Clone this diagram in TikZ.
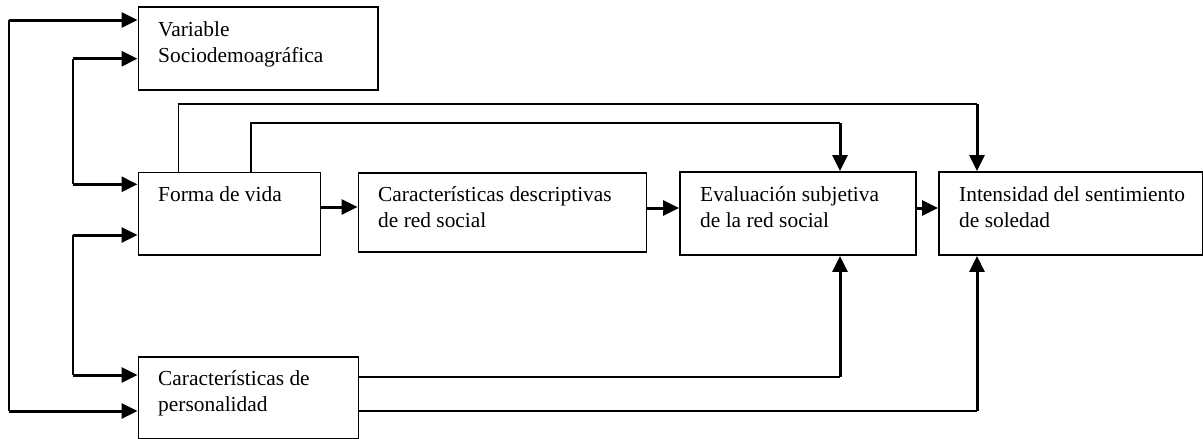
\documentclass[tikz,border=0pt]{standalone}
\usepackage{fontspec}
\setmainfont{Liberation Serif}
\usetikzlibrary{arrows.meta,calc}
\begin{document}
\begin{tikzpicture}[x=1pt,y=-1pt,
  box/.style={draw,line width=1.9pt,inner sep=0pt,anchor=north west},
  txt/.style={anchor=base west,inner sep=0pt,align=left,font=\fontsize{21.4}{25.5}\selectfont},
  link/.style={line width=2pt},
  thinlink/.style={line width=1.6pt},
  arr/.style={line width=3pt,-{Triangle[length=16pt,width=15pt]}},
  ]
\useasboundingbox (0,0) rectangle (1203,439);
% boxes
\node[box,minimum width=239.5pt,minimum height=83pt] (var) at (137.5,6) {};
\node[box,minimum width=182pt,minimum height=82.5pt] (forma) at (137.5,171.5) {};
\node[box,minimum width=288pt,minimum height=79pt] (desc) at (357.5,172) {};
\node[box,minimum width=236pt,minimum height=83pt] (eval) at (679,171) {};
\node[box,minimum width=264pt,minimum height=83pt] (inten) at (938,171) {};
\node[box,minimum width=220pt,minimum height=82pt] (pers) at (137.5,356) {};
% texts (anchor = baseline of the last line)
\node[txt] (tvar) at (158,62.4) {Variable\\Sociodemoagráfica};
\node[txt] (tforma) at (158,201.7) {Forma de vida};
\node[txt] (tdesc) at (378,227.2) {Características descriptivas\\de red social};
\node[txt] (teval) at (700,227.2) {Evaluación subjetiva\\de la red social};
\node[txt] (tinten) at (959,227.2) {Intensidad del sentimiento\\de soledad};
\node[txt] (tpers) at (158,411.2) {Características de\\personalidad};
% outer left bracket
\coordinate (o1) at (8.5,20);
\coordinate (o2) at (8.5,411);
\draw[link] (o1) -- (o2);
\draw[arr] (o1) -- (o1 -| var.west);
\draw[arr] (o2) -- (o2 -| pers.west);
% inner left brackets
\coordinate (i1) at (72.7,58.7);
\coordinate (i2) at (72.7,184.3);
\coordinate (i3) at (72.7,235);
\coordinate (i4) at (72.7,375);
\draw[link] (i1) -- (i2);
\draw[arr] (i1) -- (i1 -| var.west);
\draw[arr] (i2) -- (i2 -| forma.west);
\draw[link] (i3) -- (i4);
\draw[arr] (i3) -- (i3 -| forma.west);
\draw[arr] (i4) -- (i4 -| pers.west);
% main row
\coordinate (h1) at (0,207);
\coordinate (h2) at (0,208);
\draw[arr] (h1 -| forma.east) -- (h1 -| desc.west);
\draw[arr] (h2 -| desc.east) -- (h2 -| eval.west);
\draw[arr] (h2 -| eval.east) -- (h2 -| inten.west);
% top feedback lines
\coordinate (t1) at (178.5,104);
\coordinate (t2) at (977,104);
\draw[thinlink] (t1 |- forma.north) -- (t1) -- (t2);
\draw[arr] (t2) -- (t2 |- inten.north);
\coordinate (u1) at (250.7,123);
\coordinate (u2) at (840,123);
\draw[thinlink] (u1 |- forma.north) -- (u1) -- (u2);
\draw[arr] (u2) -- (u2 |- eval.north);
% bottom lines
\coordinate (b1) at (840,376.7);
\coordinate (b2) at (977,411);
\draw[link] (b1 -| pers.east) -- (b1);
\draw[arr] (b1) -- (b1 |- eval.south);
\draw[link] (b2 -| pers.east) -- (b2);
\draw[arr] (b2) -- (b2 |- inten.south);
\end{tikzpicture}
\end{document}
